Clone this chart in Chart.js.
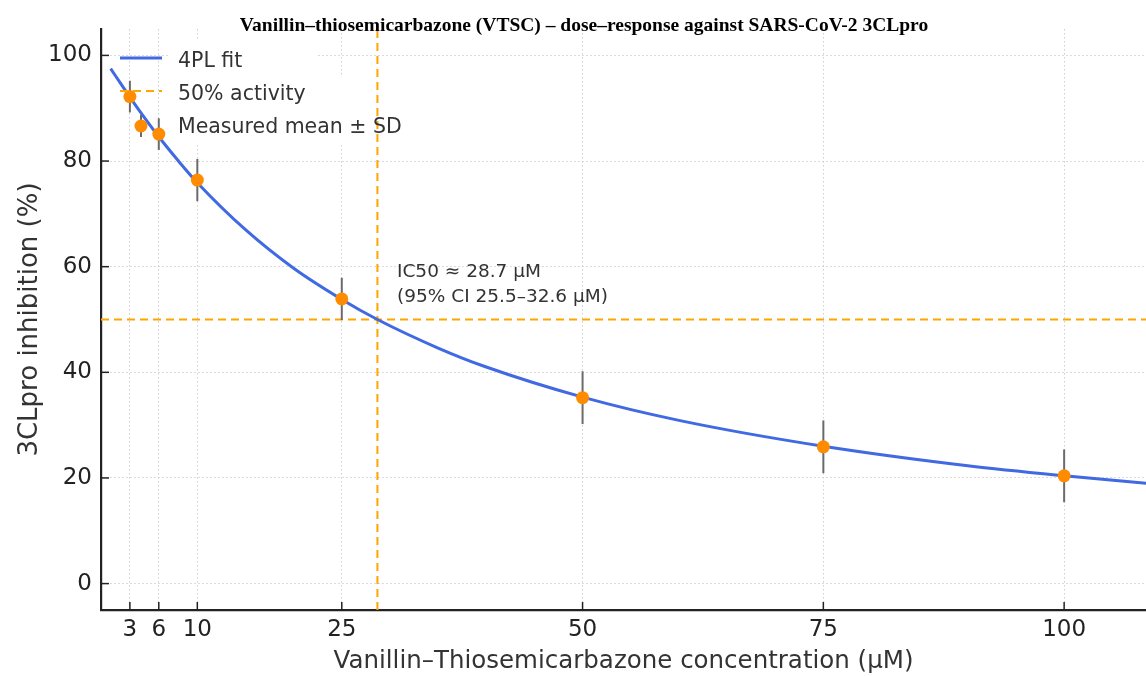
<!DOCTYPE html>
<html>
<head>
<meta charset="utf-8">
<script src="https://cdn.jsdelivr.net/npm/chart.js@4"></script>
<style>
  body { margin: 0; background: #fff; }
  .wrap { width: 1146px; height: 676px; }
</style>
</head>
<body>
<div class="wrap"><canvas id="doseChart"></canvas></div>
<script>
/////////////////////////////////////////////////////////////
// DATA

const concentrations = [3, 6, 10, 25, 50, 75, 100];
const inhibitionMean = [92.2, 85.1, 76.4, 53.9, 35.2, 25.9, 20.4];
const inhibitionSD = [3, 3, 4, 4, 5, 5, 5];

// fitted 4PL curve
const fitX = [1, 2, 3, 4, 6, 8, 10, 15, 20, 25, 28.7, 35, 40, 50, 60, 75, 90, 100, 108.5];
const fitY = [97.5, 94.8, 92.1, 89.5, 84.6, 80.1, 75.9, 67.0, 59.7, 53.8, 50.0, 44.6, 41.0, 35.3, 30.9, 26.0, 22.3, 20.4, 19.0];

const ic50 = 28.7;
const halfActivity = 50;
const xTicks = [3, 6, 10, 25, 50, 75, 100];
const yTicks = [0, 20, 40, 60, 80, 100];
const xMin = 0, xMax = 108.5;
const yMin = -5, yMax = 105;

const chartTitle = "Vanillin–thiosemicarbazone (VTSC) – dose–response against SARS-CoV-2 3CLpro";
const legendLabels = ["4PL fit", "50% activity", "Measured mean ± SD"];
const noteLines = ["IC50 ≈ 28.7 μM", "(95% CI 25.5–32.6 μM)"];

const BLUE = "#4169e1";
const ORANGE = "#ff8c00";
const DASH_ORANGE = "#ffa500";
const FONT = "'DejaVu Sans', sans-serif";

/////////////////////////////////////////////////////////////
// PLUGINS

// error bars under the measured points
const errorBars = {
  id: "errorBars",
  beforeDatasetDraw(chart, args) {
    if (args.index !== 3) return;
    const { ctx, scales: { x, y } } = chart;
    ctx.save();
    ctx.strokeStyle = "#6b6b6b";
    ctx.lineWidth = 2;
    concentrations.forEach((c, i) => {
      const px = x.getPixelForValue(c);
      ctx.beginPath();
      ctx.moveTo(px, y.getPixelForValue(inhibitionMean[i] - inhibitionSD[i]));
      ctx.lineTo(px, y.getPixelForValue(inhibitionMean[i] + inhibitionSD[i]));
      ctx.stroke();
    });
    ctx.restore();
  },
};

// white patch behind the legend text, hides the grid
const legendPatch = {
  id: "legendPatch",
  beforeDatasetsDraw(chart) {
    const { ctx } = chart;
    ctx.save();
    ctx.fillStyle = "#fff";
    ctx.fillRect(168, 40, 150, 35);
    ctx.fillRect(168, 75, 242, 70);
    ctx.restore();
  },
};

// inward ticks, legend, annotation and title
const decorations = {
  id: "decorations",
  afterDraw(chart) {
    const { ctx, chartArea, scales: { x, y } } = chart;
    ctx.save();

    // inward tick marks
    ctx.strokeStyle = "#222";
    ctx.lineWidth = 1.5;
    xTicks.forEach((v) => {
      const px = x.getPixelForValue(v);
      ctx.beginPath();
      ctx.moveTo(px, chartArea.bottom);
      ctx.lineTo(px, chartArea.bottom - 8);
      ctx.stroke();
    });
    yTicks.forEach((v) => {
      const py = y.getPixelForValue(v);
      ctx.beginPath();
      ctx.moveTo(chartArea.left, py);
      ctx.lineTo(chartArea.left + 8, py);
      ctx.stroke();
    });

    // legend
    const lx = 120, tx = 178;
    const handleRows = [58, 91, 126];
    const textRows = [62, 94.5, 128];
    ctx.lineWidth = 3;
    ctx.strokeStyle = BLUE;
    ctx.beginPath();
    ctx.moveTo(lx, handleRows[0]);
    ctx.lineTo(lx + 42, handleRows[0]);
    ctx.stroke();

    ctx.lineWidth = 2;
    ctx.strokeStyle = DASH_ORANGE;
    ctx.setLineDash([8, 5]);
    ctx.beginPath();
    ctx.moveTo(lx, handleRows[1]);
    ctx.lineTo(lx + 42, handleRows[1]);
    ctx.stroke();
    ctx.setLineDash([]);

    ctx.strokeStyle = "#6b6b6b";
    ctx.lineWidth = 2;
    ctx.beginPath();
    ctx.moveTo(lx + 21, handleRows[2] - 11);
    ctx.lineTo(lx + 21, handleRows[2] + 11);
    ctx.stroke();
    ctx.fillStyle = ORANGE;
    ctx.beginPath();
    ctx.arc(lx + 21, handleRows[2], 6.5, 0, Math.PI * 2);
    ctx.fill();

    ctx.font = `20.5px ${FONT}`;
    ctx.fillStyle = "#333";
    ctx.textAlign = "left";
    ctx.textBaseline = "middle";
    legendLabels.forEach((t, i) => ctx.fillText(t, tx, textRows[i]));

    // IC50 note
    ctx.font = `18.5px ${FONT}`;
    ctx.fillText(noteLines[0], 397, 272);
    ctx.fillText(noteLines[1], 397, 297);

    // title
    ctx.font = "bold 19.5px 'Liberation Serif', serif";
    ctx.fillStyle = "#000";
    ctx.textAlign = "center";
    ctx.textBaseline = "alphabetic";
    ctx.fillText(chartTitle, 584, 31);

    ctx.restore();
  },
};

/////////////////////////////////////////////////////////////
// SET UP CHART

const chart_data = {
  datasets: [
    {
      label: legendLabels[0],
      type: "line",
      data: fitX.map((v, i) => ({ x: v, y: fitY[i] })),
      borderColor: BLUE,
      borderWidth: 3,
      pointRadius: 0,
      cubicInterpolationMode: "monotone",
      order: 1,
    },
    {
      label: legendLabels[1],
      type: "line",
      data: [
        { x: xMin, y: halfActivity },
        { x: xMax, y: halfActivity },
      ],
      borderColor: DASH_ORANGE,
      borderWidth: 2,
      borderDash: [8, 5],
      pointRadius: 0,
      order: 2,
    },
    {
      label: "IC50",
      type: "line",
      data: [
        { x: ic50, y: yMin },
        { x: ic50, y: yMax },
      ],
      borderColor: DASH_ORANGE,
      borderWidth: 2,
      borderDash: [8, 5],
      pointRadius: 0,
      order: 3,
    },
    {
      label: legendLabels[2],
      type: "scatter",
      data: concentrations.map((c, i) => ({ x: c, y: inhibitionMean[i] })),
      backgroundColor: ORANGE,
      borderWidth: 0,
      pointRadius: 6.5,
      order: 0,
    },
  ],
};

const gridStyle = { color: "#cfcfcf", lineWidth: 1, drawTicks: false };
const borderStyle = { display: true, color: "#222", width: 2.2, dash: [1.5, 2.5] };

const chart_config = {
  type: "scatter",
  data: chart_data,
  options: {
    responsive: true,
    maintainAspectRatio: false,
    animation: false,
    layout: {
      autoPadding: false,
      padding: { top: 29, right: 0, left: 0, bottom: 0 },
    },
    scales: {
      x: {
        type: "linear",
        min: xMin,
        max: xMax,
        grid: gridStyle,
        border: borderStyle,
        afterBuildTicks: (scale) => {
          scale.ticks = xTicks.map((v) => ({ value: v }));
        },
        afterFit: (scale) => {
          scale.height = 66;
          scale.paddingLeft = 0;
          scale.paddingRight = 0;
        },
        ticks: {
          padding: 6,
          autoSkip: false,
          maxRotation: 0,
          color: "#222",
          font: { family: FONT, size: 23 },
        },
        title: {
          display: true,
          text: "Vanillin–Thiosemicarbazone concentration (μM)",
          color: "#333",
          font: { family: FONT, size: 24.5 },
          padding: { top: 0, bottom: 0 },
        },
      },
      y: {
        type: "linear",
        min: yMin,
        max: yMax,
        grid: gridStyle,
        border: borderStyle,
        afterBuildTicks: (scale) => {
          scale.ticks = yTicks.map((v) => ({ value: v }));
        },
        afterFit: (scale) => {
          scale.width = 101;
        },
        ticks: {
          padding: 9,
          color: "#222",
          font: { family: FONT, size: 23 },
        },
        title: {
          display: true,
          text: "3CLpro inhibition (%)",
          color: "#333",
          font: { family: FONT, size: 26 },
          padding: { top: 15, bottom: 0 },
        },
      },
    },
    plugins: {
      legend: { display: false },
      title: { display: false },
      tooltip: { enabled: false },
    },
  },
  plugins: [errorBars, legendPatch, decorations],
};

// render chart
const ctx = document.querySelector("#doseChart").getContext("2d");
const doseChart = new Chart(ctx, chart_config);
</script>
</body>
</html>
